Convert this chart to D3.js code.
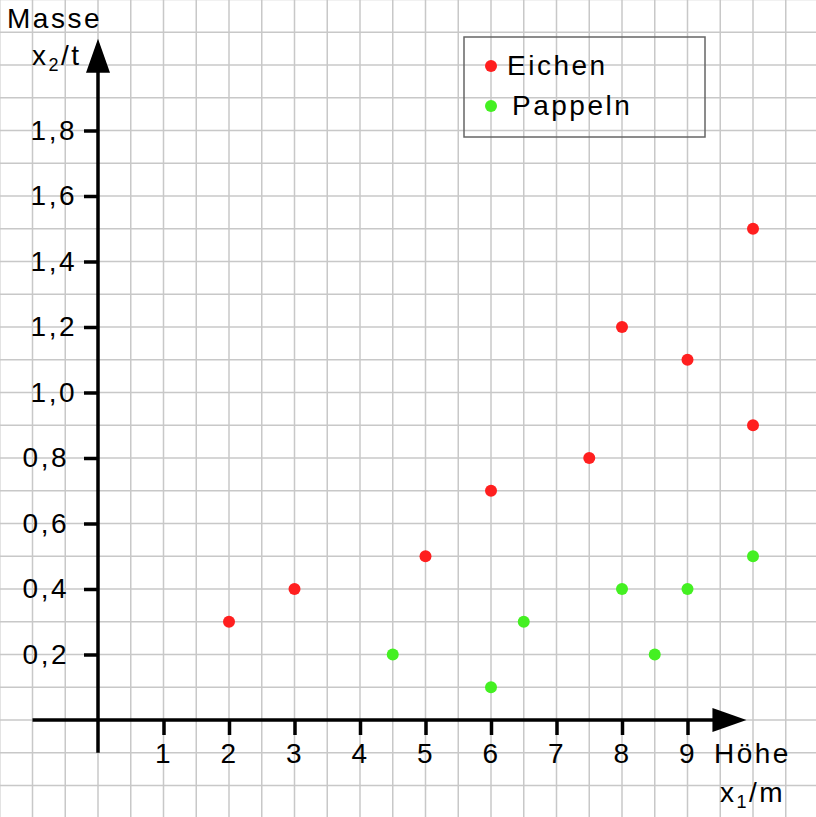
<!DOCTYPE html>
<html>
<head>
<meta charset="utf-8">
<script src="https://cdn.jsdelivr.net/npm/d3@7"></script>
<style>
    body { margin: 0; background: #fff; }
    text { font-family: "Liberation Sans", Arial, sans-serif; font-size: 28px; letter-spacing: 2.5px; fill: #000; }
</style>
</head>
<body>
<svg id="chart"></svg>
<script>
// data
const xTicks = [1, 2, 3, 4, 5, 6, 7, 8, 9]
const xTickLabels = ["1", "2", "3", "4", "5", "6", "7", "8", "9"]
const yTicks = [0.2, 0.4, 0.6, 0.8, 1.0, 1.2, 1.4, 1.6, 1.8]
const yTickLabels = ["0,2", "0,4", "0,6", "0,8", "1,0", "1,2", "1,4", "1,6", "1,8"]

const eichenX = [2, 3, 5, 6, 7.5, 8, 9, 10, 10]
const eichenY = [0.3, 0.4, 0.5, 0.7, 0.8, 1.2, 1.1, 1.5, 0.9]
const pappelnX = [4.5, 6, 6.5, 8, 8.5, 9, 10]
const pappelnY = [0.2, 0.1, 0.3, 0.4, 0.2, 0.4, 0.5]

const seriesNames = ["Eichen", "Pappeln"]
const seriesColors = ["#ff1f1f", "#44f022"]

const w = 816
const h = 817

const x = d3.scaleLinear().domain([0, 10]).range([98, 753])
const y = d3.scaleLinear().domain([0, 2]).range([720, 65])

const svg = d3.select("#chart")
    .attr("width", w)
    .attr("height", h)
    .attr("viewBox", `0 0 ${w} ${h}`)

// squared paper
const grid = svg.append("g").attr("class", "grid")
grid.selectAll("line.v")
    .data(d3.range(-3, 23).map(k => k * 0.5))
    .enter()
    .append("line")
    .attr("class", "v")
    .attr("x1", d => x(d)).attr("x2", d => x(d))
    .attr("y1", 0).attr("y2", h)
grid.selectAll("line.h")
    .data(d3.range(-3, 23).map(k => k * 0.1))
    .enter()
    .append("line")
    .attr("class", "h")
    .attr("y1", d => y(d)).attr("y2", d => y(d))
    .attr("x1", 0).attr("x2", w)
grid.selectAll("line")
    .attr("stroke", "#c8c8c8")
    .attr("stroke-width", 1.5)

// axes with ticks on one side only
const xAxis = d3.axisBottom(x)
    .tickValues(xTicks)
    .tickFormat((d, i) => xTickLabels[i])
    .tickSize(15)
    .tickPadding(8)
const yAxis = d3.axisLeft(y)
    .tickValues(yTicks)
    .tickFormat((d, i) => yTickLabels[i])
    .tickSize(14)
    .tickPadding(15)

const gx = svg.append("g")
    .attr("transform", `translate(0, ${y(0)})`)
    .call(xAxis)
const gy = svg.append("g")
    .attr("transform", `translate(${x(0)}, 0)`)
    .call(yAxis)

for (const g of [gx, gy]) {
    g.attr("font-size", null).attr("font-family", null)
    g.select(".domain").remove()
    g.selectAll(".tick line").attr("stroke", "#000").attr("stroke-width", 3.5)
    g.selectAll(".tick text").attr("fill", "#000")
}
// labels starting with 1 sit a bit further right in the original
gy.selectAll(".tick text").attr("dx", d => d >= 1 ? 8 : 0)

// axis lines with arrow heads
const xTip = x(9.9)
const yTip = y(2.08)
svg.append("line")
    .attr("x1", x(-1)).attr("x2", xTip - 30)
    .attr("y1", y(0)).attr("y2", y(0))
    .attr("stroke", "#000").attr("stroke-width", 3.5)
svg.append("path")
    .attr("d", `M${xTip},${y(0)} L${xTip - 34},${y(0) - 12} L${xTip - 34},${y(0) + 12} Z`)
    .attr("fill", "#000")
svg.append("line")
    .attr("x1", x(0)).attr("x2", x(0))
    .attr("y1", y(-0.1)).attr("y2", yTip + 30)
    .attr("stroke", "#000").attr("stroke-width", 3.5)
svg.append("path")
    .attr("d", `M${x(0)},${yTip} L${x(0) - 12},${yTip + 34} L${x(0) + 12},${yTip + 34} Z`)
    .attr("fill", "#000")

// axis titles
svg.append("text").attr("x", 7).attr("y", 28).text("Masse")
const yt = svg.append("text").attr("x", 32).attr("y", 65)
yt.append("tspan").text("x")
yt.append("tspan").attr("dy", 6).style("font-size", "18px").text("2")
yt.append("tspan").attr("dy", -6).text("/t")

svg.append("text").attr("x", 714).attr("y", 763).text("Höhe")
const xt = svg.append("text").attr("x", 720).attr("y", 802)
xt.append("tspan").text("x")
xt.append("tspan").attr("dy", 6).style("font-size", "18px").text("1")
xt.append("tspan").attr("dy", -6).text("/m")

// points
const series = [
    { name: seriesNames[0], xs: eichenX, ys: eichenY, color: seriesColors[0] },
    { name: seriesNames[1], xs: pappelnX, ys: pappelnY, color: seriesColors[1] }
]
series.forEach(s => {
    svg.append("g")
        .selectAll("circle")
        .data(s.xs.map((v, i) => [v, s.ys[i]]))
        .enter()
        .append("circle")
        .attr("r", 6)
        .attr("cx", d => x(d[0]))
        .attr("cy", d => y(d[1]))
        .attr("fill", s.color)
})

// legend
const legend = svg.append("g").attr("transform", "translate(464, 37)")
legend.append("rect")
    .attr("width", 241).attr("height", 100)
    .attr("fill", "none")
    .attr("stroke", "#666")
    .attr("stroke-width", 1.5)
legend.selectAll("circle")
    .data(series)
    .enter()
    .append("circle")
    .attr("r", 6)
    .attr("cx", 27)
    .attr("cy", (d, i) => 29 + 40 * i)
    .attr("fill", d => d.color)
legend.selectAll("text")
    .data(series)
    .enter()
    .append("text")
    .attr("x", (d, i) => 43 + 5 * i)
    .attr("y", (d, i) => 38 + 40 * i)
    .text(d => d.name)
</script>
</body>
</html>
